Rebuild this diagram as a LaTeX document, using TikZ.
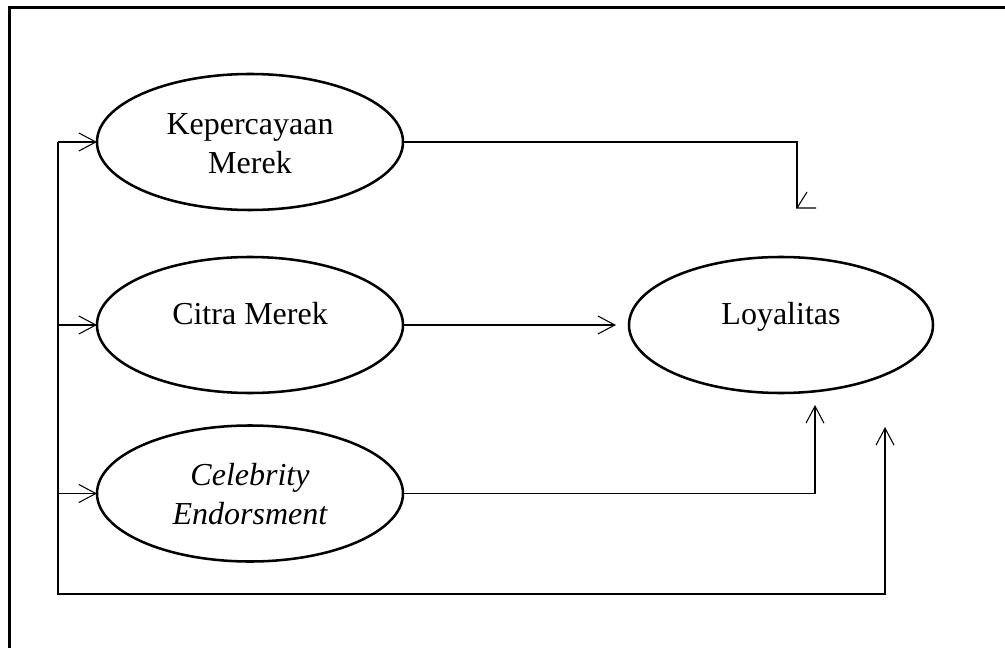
\documentclass[tikz,border=0pt]{standalone}
\usepackage{fontspec}
\setmainfont{Liberation Serif}
\usetikzlibrary{shapes.geometric,arrows.meta}
\tikzset{
  var/.style={ellipse, draw, line width=1.9pt, minimum width=229.5pt, minimum height=102pt, inner sep=0pt, outer sep=0pt},
  lbl/.style={align=center, font=\fontsize{24}{29.25}\selectfont, inner sep=0pt, anchor=base},
  conn/.style={line width=0.8pt},
  arr/.style={conn, -{Straight Barb[length=12.75pt,width=13.5pt]}},
}
\begin{document}
\begin{tikzpicture}[x=0.75pt,y=-0.75pt]
\useasboundingbox (0,0) rectangle (1005,648);
\clip (0,0) rectangle (1005,648);
\draw[line width=2.5pt] (9.5,7.5) rectangle (1020,670);
% ellipses
\node[var] (kep) at (250,142) {};
\node[var] (cit) at (250,325) {};
\node[var] (cel) at (250,493.5) {};
\node[var, minimum width=228pt] (loy) at (781,325) {};
% labels
\node[lbl] (tkep) at (250,174) {Kepercayaan\\Merek};
\node[lbl] (tcit) at (250,325) {Citra Merek};
\node[lbl] (tcel) at (250,524) {\itshape Celebrity\\\itshape Endorsment};
\node[lbl] (tloy) at (781,325) {Loyalitas};
% coordinates
\coordinate (c1) at (58,142);
\coordinate (c2) at (58,325);
\coordinate (c3) at (58,493.5);
\coordinate (c4) at (58,594);
\coordinate (c5) at (885,594);
\coordinate (c6) at (885,427);
\coordinate (k1) at (797,142);
\coordinate (k2) at (797,208);
\coordinate (k3) at (816,208);
\coordinate (k4) at (807,192);
\coordinate (m1) at (616,325);
\coordinate (e1) at (815,493.5);
\coordinate (e2) at (815,405);
% connectors
\draw[arr] (c1) -- (kep.west);
\draw[arr] (c2) -- (cit.west);
\draw[arr] (c3) -- (cel.west);
\draw[arr] (c1) -- (c4) -- (c5) -- (c6);
\draw[arr] (cit.east) -- (m1);
\draw[conn] (kep.east) -- (k1) -- (k2);
\draw[conn] (k3) -- (k2) -- (k4);
\draw[arr] (cel.east) -- (e1) -- (e2);
\end{tikzpicture}
\end{document}
